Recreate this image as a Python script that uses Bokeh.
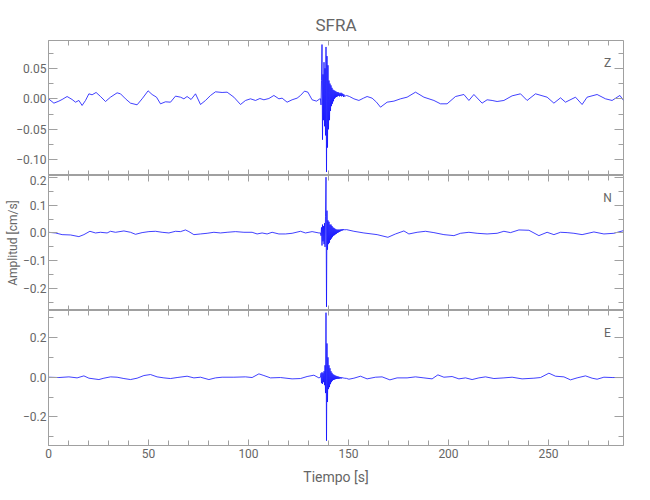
from bokeh.plotting import figure
from bokeh.layouts import column
from bokeh.models import (Range1d, LinearAxis, SingleIntervalTicker,
                          CustomJSTickFormatter, Label)
from bokeh.embed import file_html
from bokeh.resources import INLINE

# ---------------- data ----------------
title_text = "SFRA"
channels = ["Z", "N", "E"]
x_label = "Tiempo [s]"
y_label = "Amplitud [cm/s]"
x_limits = [0.0, 287.5]
z_limits = [-0.1257, 0.0956]
n_limits = [-0.278, 0.206]
e_limits = [-0.344, 0.336]

# slow part before the arrival
z_pre_t = [0, 2.7, 5.2, 6.8, 9.3, 11.8, 13.5, 15.2, 16.8, 18.5, 20.2, 21.8, 23.8, 26, 28.5,
           31, 34.3, 36, 38.5, 41, 44.3, 46.8, 49.8, 51.8, 54, 56, 58.5, 61, 63.5, 66,
           67.7, 69.3, 71.3, 73.5, 76, 78.5, 81, 83.5, 86.8, 89.3, 92.7, 96, 98.5, 101,
           103.5, 105.7, 107.7, 110.2, 112.7, 115.2, 116.8, 119.3, 121.8, 124.3, 126,
           128, 129.7, 131.8, 134, 135.7]
z_pre_v = [0.000, -0.0071, -0.0038, -0.0011, 0.0038, -0.0011, -0.0055, -0.0027, -0.0109,
           -0.0027, 0.0082, 0.0066, 0.0104, 0.0038, -0.0044, 0.0027, 0.0098, 0.0082, 0.000,
           -0.0071, -0.0098, 0.000, 0.0131, 0.0071, 0.0027, -0.0082, -0.0049, -0.0055,
           0.0044, 0.0027, 0.000, 0.0038, -0.0011, 0.0082, -0.0093, -0.0027, 0.0055, 0.0115,
           0.0104, 0.0109, 0.0027, -0.0093, -0.0027, 0.000, -0.0027, 0.0005, -0.0016, 0.0005,
           0.0055, 0.000, 0.0011, -0.0055, -0.0016, 0.0011, 0.0055, 0.0126, 0.0109, -0.0016,
           -0.0038, 0.000]
z_post_t = [149.0, 150.5, 152.7, 155.2, 157.5, 159.3, 161.8, 164.0, 166.0, 169.3, 172.7,
            176.0, 179.3, 183.5, 187.7, 192.7, 196.0, 199.3, 203.5, 207.7, 210.2, 212.7,
            216.8, 219.3, 221.8, 224.3, 227.7, 231.8, 236.0, 239.3, 243.5, 249.3, 252.7,
            256.0, 258.5, 263.5, 266.8, 269.3, 274.3, 278.5, 281.8, 285.7, 287.5]
z_post_v = [0.0055, 0.0038, 0.0, -0.0027, 0.0011, 0.0038, 0.0011, -0.0055, -0.0137, -0.0055,
            -0.0038, 0.0, 0.0027, 0.0109, 0.0027, -0.0027, -0.0082, -0.0082, 0.0038, 0.0071,
            -0.0027, 0.0071, -0.0071, -0.0016, -0.0027, -0.0044, -0.0027, 0.0049, 0.0082,
            -0.0027, 0.0082, 0.0027, -0.0071, 0.0016, -0.0055, 0.0027, -0.0093, 0.0027,
            0.0071, 0.0, -0.0027, 0.0055, -0.0027]

n_pre_t = [0, 3.5, 6.8, 11, 15.2, 17.7, 20.7, 23.5, 26, 29.3, 31, 33.5, 37.7, 41, 43.5,
           46.8, 50.2, 53.5, 56.8, 60.2, 63.5, 66, 68.5, 70.2, 72.7, 76, 79.3, 82.7, 86,
           89.3, 93.5, 97.7, 101.8, 104.3, 106.8, 109.3, 111.8, 115.2, 118.5, 121.8, 126,
           128.5, 131.8, 135.2]
n_pre_v = [0.0024, 0.0, -0.006, -0.0072, -0.0131, -0.006, 0.006, 0.0, 0.0024, 0.0, 0.006,
           0.0024, 0.0072, 0.0024, -0.0048, 0.0012, 0.0048, 0.006, 0.0024, 0.0, 0.006,
           0.0048, 0.0108, 0.0048, -0.006, -0.0036, -0.0012, 0.0024, 0.0, 0.0024, 0.0048,
           0.0024, 0.0024, -0.0036, 0.0, -0.0036, 0.0024, -0.0036, -0.0036, -0.0012, 0.006,
           0.0, 0.0048, 0.0]
n_post_t = [149.0, 152.7, 157.7, 164.3, 169.7, 173.5, 177.7, 180.2, 184.3, 188.5, 192.7,
            197.7, 202.7, 206.0, 210.2, 214.3, 219.3, 224.3, 227.7, 231.0, 235.2, 240.2,
            245.2, 249.3, 252.7, 256.0, 259.3, 262.7, 266.8, 272.7, 277.7, 282.7, 287.5]
n_post_v = [0.012, 0.006, 0.0, -0.006, -0.0155, -0.0036, 0.0072, -0.0036, 0.0024, 0.006,
            0.0012, -0.006, -0.0096, -0.0012, 0.0024, -0.0012, -0.0036, -0.0012, 0.006,
            0.0012, 0.0108, 0.0096, -0.0096, 0.0024, -0.006, 0.0024, 0.0012, -0.0012,
            -0.006, 0.0036, -0.0036, -0.0012, 0.0084]

e_pre_t = [0, 5.2, 10.2, 14.3, 17.7, 20.2, 25.2, 27.7, 31, 34.3, 37.7, 41, 44.3, 47.7, 51,
           54.3, 57.7, 61, 64.3, 69.3, 72.7, 76, 80.2, 83.5, 86.8, 92.7, 98.5, 101.8, 105.2,
           107.7, 111, 116, 121.8, 126, 129.3, 132.7, 135.2]
e_pre_v = [0.0, -0.0017, 0.0017, -0.0034, 0.0067, -0.005, -0.0118, -0.005, 0.0017, 0.0,
           -0.0067, -0.0118, -0.005, 0.0084, 0.0134, 0.0017, -0.0034, -0.0067, -0.0017,
           0.005, -0.0034, 0.0, -0.0118, -0.0034, 0.0, 0.0, 0.0017, -0.0017, 0.0168, 0.0084,
           -0.0034, -0.0017, -0.0084, -0.0067, 0.0034, 0.0101, -0.0034]
e_post_t = [149.0, 150.2, 152.7, 156.0, 159.3, 163.5, 166.8, 170.7, 174.3, 179.3, 183.5,
            187.7, 191.8, 194.7, 197.7, 201.8, 205.2, 208.5, 211.8, 215.2, 218.5, 222.7,
            227.7, 231.8, 236.8, 242.7, 246.0, 250.2, 253.5, 257.7, 261.0, 264.3, 268.5,
            271.8, 274.3, 277.7, 281.8, 287.5]
e_post_v = [-0.006, -0.0101, -0.005, 0.005, -0.0084, 0.0, 0.0017, -0.0134, -0.0034, -0.0034,
            0.0017, -0.0034, -0.0084, 0.0118, 0.0, 0.0034, -0.0084, -0.0034, -0.0118,
            -0.0034, 0.0017, -0.0067, -0.0034, 0.0, -0.0084, -0.005, -0.0017, 0.0202, 0.005,
            0.0017, -0.0134, -0.0034, 0.0067, -0.005, -0.0101, 0.0, -0.0017, -0.0017]

# strong-motion part, sampled every 0.25 s from 136.0 s
burst_start = 136.0
burst_step = 0.25
z_burst = [0.000, -0.010, 0.030, 0.089, -0.067, 0.040, -0.035, 0.060, -0.045, 0.050,
           -0.060, 0.085, -0.120, 0.070, -0.080, 0.055, -0.050, 0.030, -0.035, 0.025,
           -0.020, 0.022, -0.012, 0.018, -0.008, 0.015, -0.004, 0.014, 0.000, 0.013,
           0.002, 0.012, 0.003, 0.011, 0.004, 0.011, 0.005, 0.010, 0.004, 0.009,
           0.005, 0.010, 0.004, 0.009, 0.005, 0.008, 0.003, 0.007, 0.004]
n_burst = [0.000, -0.010, 0.020, -0.045, 0.030, -0.030, 0.025, -0.040, 0.035, -0.050,
           0.060, 0.200, -0.265, 0.080, -0.060, 0.045, -0.040, 0.040, -0.035, 0.030,
           -0.025, 0.030, -0.020, 0.025, -0.015, 0.020, -0.010, 0.018, -0.008, 0.015,
           -0.005, 0.013, -0.003, 0.012, 0.000, 0.012, 0.002, 0.012, 0.004, 0.012,
           0.006, 0.013, 0.008, 0.013, 0.009, 0.014, 0.010, 0.013, 0.011]
e_burst = [0.000, 0.020, -0.030, 0.025, -0.034, 0.020, -0.025, 0.030, -0.040, 0.060,
           -0.080, 0.325, -0.320, 0.170, -0.125, 0.100, -0.060, 0.060, -0.050, 0.045,
           -0.035, 0.030, -0.025, 0.022, -0.018, 0.015, -0.014, 0.012, -0.012, 0.009,
           -0.010, 0.007, -0.009, 0.005, -0.008, 0.004, -0.008, 0.002, -0.007, 0.001,
           -0.006, 0.000, -0.006, -0.001, -0.005, -0.002, -0.005, -0.003, -0.005]

# ---------------- styling ----------------
FONT = "Roboto"
FRAME = "#a0a0a0"
TXT = "#666666"
LINE = "#1010ff"


def series(pre_t, pre_v, burst, post_t, post_v):
    bt = [burst_start + burst_step * i for i in range(len(burst))]
    return pre_t + bt + post_t, pre_v + burst + post_v


def fmt(digits):
    return CustomJSTickFormatter(args=dict(d=digits), code="""
        const s = Math.abs(tick).toFixed(d);
        return (tick < -1e-9 ? '\\u2212' : '') + s;
    """)


xr = Range1d(*x_limits)


def style(ax, labels, xaxis):
    ax.axis_line_color = FRAME
    ax.major_tick_line_color = FRAME
    ax.minor_tick_line_color = FRAME
    ax.major_tick_out = 0
    ax.minor_tick_out = 0
    ax.major_tick_in = 6 if xaxis else 9
    ax.minor_tick_in = 5
    ax.major_label_text_font = FONT
    ax.major_label_text_color = TXT
    ax.major_label_text_font_size = "12px"
    ax.major_label_standoff = 3 if xaxis else 2
    if not labels:
        ax.major_label_text_color = None
        ax.major_label_text_font_size = "1px"
        ax.major_label_standoff = 0


def make_panel(limits, yint, digits, label, top, bottom, show_x):
    p = figure(frame_width=575, frame_height=135, x_range=xr,
               y_range=Range1d(*limits), output_backend="svg",
               toolbar_location=None, x_axis_location=None, y_axis_location=None,
               min_border_left=48, min_border_right=24,
               min_border_top=top, min_border_bottom=bottom,
               background_fill_color="white", border_fill_color="white")
    p.outline_line_color = FRAME
    p.grid.visible = False

    left = LinearAxis(ticker=SingleIntervalTicker(interval=yint, num_minor_ticks=2),
                      formatter=fmt(digits))
    style(left, True, False)
    p.add_layout(left, "left")

    right = LinearAxis(ticker=SingleIntervalTicker(interval=yint, num_minor_ticks=2),
                       fixed_location=x_limits[1])
    style(right, False, False)
    p.add_layout(right, "right")

    top_ax = LinearAxis(ticker=SingleIntervalTicker(interval=50, num_minor_ticks=5),
                        fixed_location=limits[1])
    style(top_ax, False, True)
    p.add_layout(top_ax, "above")

    if show_x:
        bot = LinearAxis(ticker=SingleIntervalTicker(interval=50, num_minor_ticks=5))
        style(bot, True, True)
    else:
        bot = LinearAxis(ticker=SingleIntervalTicker(interval=50, num_minor_ticks=5),
                         fixed_location=limits[0])
        style(bot, False, True)
    p.add_layout(bot, "below")

    p.add_layout(Label(x=559, y=113, x_units="screen", y_units="screen", text=label,
                       text_font=FONT, text_font_size="12px", text_color=TXT,
                       text_align="center", text_baseline="middle"))
    return p, left, bot


p1, l1, b1 = make_panel(z_limits, 0.05, 2, channels[0], 40, 0, False)
p2, l2, b2 = make_panel(n_limits, 0.1, 1, channels[1], 0, 0, False)
p3, l3, b3 = make_panel(e_limits, 0.2, 1, channels[2], 0, 50, True)

for p, args in ((p1, (z_pre_t, z_pre_v, z_burst, z_post_t, z_post_v)),
                (p2, (n_pre_t, n_pre_v, n_burst, n_post_t, n_post_v)),
                (p3, (e_pre_t, e_pre_v, e_burst, e_post_t, e_post_v))):
    t, v = series(*args)
    p.line(t, v, line_color=LINE, line_width=0.8)

p1.title.text = title_text
p1.title.align = "center"
p1.title.text_font = FONT
p1.title.text_font_size = "17px"
p1.title.text_font_style = "normal"
p1.title.text_color = TXT
p1.title.standoff = 12

l2.axis_label = y_label
l2.axis_label_text_font = FONT
l2.axis_label_text_font_size = "12px"
l2.axis_label_text_font_style = "normal"
l2.axis_label_text_color = TXT
l2.axis_label_standoff = 0

b3.axis_label = x_label
b3.axis_label_text_font = FONT
b3.axis_label_text_font_size = "14px"
b3.axis_label_text_font_style = "normal"
b3.axis_label_text_color = TXT
b3.axis_label_standoff = 8

layout = column(p1, p2, p3, spacing=0)
open("out.html", "w").write(file_html(layout, INLINE))
